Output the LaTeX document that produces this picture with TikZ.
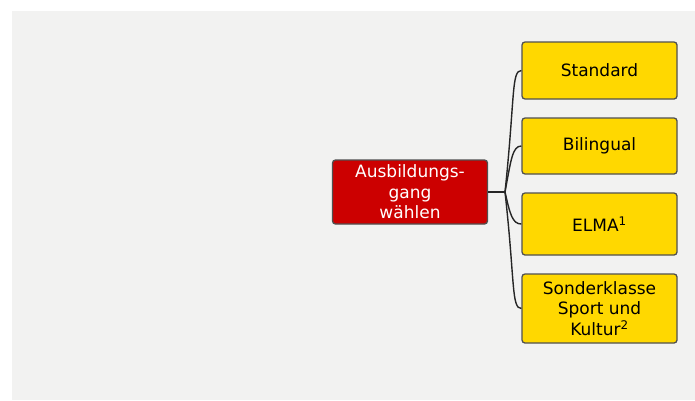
\documentclass[tikz,border=0pt]{standalone}
\usepackage{fontspec}
\setmainfont{DejaVu Sans}
\definecolor{pagegray}{HTML}{F2F2F1}
\definecolor{boxred}{HTML}{CC0000}
\definecolor{boxyellow}{HTML}{FFD800}
\definecolor{framegray}{HTML}{505050}
\tikzset{
  box/.style={draw=framegray, line width=1.3pt, rounded corners=3pt, align=center,
    minimum width=155pt, inner sep=2pt, font=\fontsize{17}{20.5}\selectfont},
  link/.style={black!85, line width=1.4pt}
}
\begin{document}
\begin{tikzpicture}[x=1pt,y=-1pt]
        \useasboundingbox (0, 0) rectangle (695, 400);
        \fill[pagegray] (12, 11) rectangle (695, 400);

        \node[box, fill=boxred, text=white, minimum height=64pt] (gang) at (410, 192) {Ausbildungs-\\gang\\wählen};
        \node[box, fill=boxyellow, minimum height=57pt] (standard) at (599.5, 70.5) {Standard};
        \node[box, fill=boxyellow, minimum height=56pt] (bilingual) at (599.5, 146) {Bilingual};
        \node[box, fill=boxyellow, minimum height=62pt] (elma) at (599.5, 224) {ELMA\textsuperscript{1}};
        \node[box, fill=boxyellow, minimum height=69pt] (sonder) at (599.5, 308.5) {Sonderklasse\\Sport und\\Kultur\textsuperscript{2}};

        \coordinate (fork) at (505, 192);
        \draw[link] (gang.east) -- (fork);
        \draw[link] (fork) .. controls +(10, -95) and +(-10, 0) .. (standard.west);
        \draw[link] (fork) .. controls +(6, -32) and +(-9, 0) .. (bilingual.west);
        \draw[link] (fork) .. controls +(5, 22) and +(-9, 0) .. (elma.west);
        \draw[link] (fork) .. controls +(10, 90) and +(-10, 0) .. (sonder.west);

\end{tikzpicture}
\end{document}
